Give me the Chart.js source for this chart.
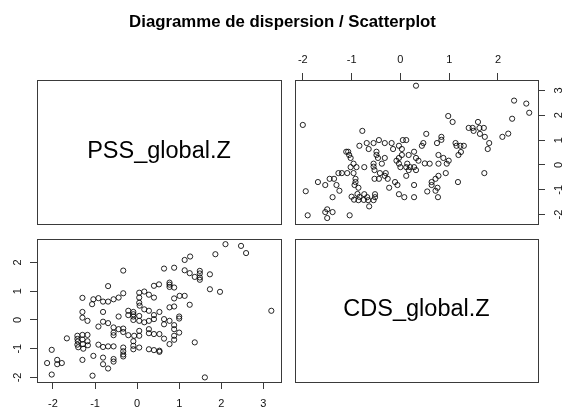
<!DOCTYPE html>
<html><head><meta charset="utf-8">
<script src="https://cdn.jsdelivr.net/npm/chart.js@4/dist/chart.umd.min.js"></script>
<style>
html,body{margin:0;padding:0;background:#fff;}
#wrap{position:relative;width:563px;height:409px;overflow:hidden;background:#fff;}
canvas{position:absolute;left:0;top:0;}
</style></head><body>
<div id="wrap">
<canvas id="cTL" width="563" height="409"></canvas>
<canvas id="cTR" width="563" height="409"></canvas>
<canvas id="cBL" width="563" height="409"></canvas>
<canvas id="cBR" width="563" height="409"></canvas>
</div>
<script>
const mainTitle = "Diagramme de dispersion / Scatterplot";
const varNames = ["PSS_global.Z", "CDS_global.Z"];

const pss = [-2.14,-2.03,-1.90,-1.90,-1.79,-2.03,-1.67,-1.42,-1.42,-1.41,-1.42,-1.40,-1.30,-1.30,-1.29,-1.28,-1.18,-1.18,-1.17,-1.30,
  -1.04,-1.06,-1.30,-1.30,-1.30,-1.18,-1.04,-1.07,-0.92,-0.81,-0.69,-0.56,-0.69,-0.81,-0.92,-0.81,-0.69,-0.56,-0.56,-0.56,
  -0.92,-0.81,-0.69,-0.56,-0.81,-0.81,-0.69,-0.56,-0.56,-0.44,-0.33,-0.33,-0.44,-0.21,-0.21,-0.09,-0.09,-0.09,-0.44,-0.33,
  -0.33,-0.21,-0.07,-0.33,-0.33,-0.33,-0.33,-0.09,-0.09,-0.09,0.05,0.17,0.05,0.05,0.06,0.28,0.40,0.40,0.05,0.05,
  0.17,0.28,0.40,0.28,0.40,0.05,0.05,0.28,0.28,0.05,0.28,0.40,0.53,0.53,0.52,0.64,0.88,0.77,0.77,0.77,
  0.88,0.88,0.77,0.88,0.53,0.64,0.77,0.64,0.88,0.88,0.53,0.64,0.88,0.88,0.77,1.01,1.13,1.25,1.00,1.00,
  1.00,1.13,1.26,1.13,1.25,1.49,1.49,1.49,1.49,1.37,1.73,1.73,1.97,1.86,2.10,2.47,2.59,3.19,1.61,1.37,
  0.17,0.40,-0.09];
const cds = [-1.50,-1.04,-1.39,-1.54,-1.50,-1.90,-0.64,-0.55,-0.66,-0.75,-0.86,-0.95,-0.52,-0.68,-0.84,-1.00,-0.52,-0.74,-0.88,-1.39,
  -1.25,-1.94,0.77,0.28,0.08,-0.03,0.72,0.55,0.76,0.64,0.64,0.72,1.18,0.28,-0.23,-0.06,-0.11,-0.26,-0.44,-0.53,
  -0.86,-0.94,-0.92,-0.92,-1.31,-1.54,-1.69,-1.36,-1.45,0.78,0.93,1.72,0.12,0.32,0.17,0.28,0.20,0.12,-0.32,-0.30,
  -0.42,-0.53,-0.55,-0.96,-1.09,-1.20,-1.27,-0.74,-0.90,-1.02,0.95,0.99,0.78,0.60,0.50,0.88,0.78,1.19,0.14,-0.03,
  0.37,0.32,0.17,-0.03,0.03,-0.38,-0.55,-0.32,-0.46,-0.96,-1.02,-1.05,-1.07,-1.11,1.24,1.79,1.82,1.30,1.23,1.15,
  1.13,0.75,0.44,0.47,0.28,0.03,-0.03,-0.15,-0.18,-0.32,-0.49,-0.65,-0.55,-0.69,-0.84,0.84,0.84,0.53,0.12,0.05,
  -0.44,2.09,2.21,1.73,1.63,1.71,1.62,1.48,1.40,1.50,1.59,1.07,0.98,2.29,2.64,2.58,2.33,0.32,-2.00,-0.78,
  -0.08,-0.49,0.00];

const pssTicks = [-2,-1,0,1,2,3];
const pssTickLabels = ["-2","-1","0","1","2","3"];
const cdsTicks = [-2,-1,0,1,2];
const cdsTickLabels = ["-2","-1","0","1","2"];
const pssRange = [-2.38, 3.42];
const cdsRange = [-2.16, 2.82];

// layout
const W = 563, H = 409;
const FAM = '"Liberation Sans", Arial, Helvetica, sans-serif';
const INK = '#3a3a3a';
const TICKLEN = 7;
const boxes = {
  TL: {left:37, right:281, top:80, bottom:224},
  TR: {left:295, right:538, top:80, bottom:224},
  BL: {left:37, right:281, top:239, bottom:382},
  BR: {left:295, right:538, top:239, bottom:382}
};

const framePlugin = {
  id: 'frame',
  afterDraw(chart, args, o) {
    const ctx = chart.ctx, a = chart.chartArea;
    ctx.save();
    ctx.strokeStyle = INK; ctx.lineWidth = 1;
    ctx.strokeRect(Math.round(a.left) + 0.5, Math.round(a.top) + 0.5,
                   Math.round(a.right - a.left), Math.round(a.bottom - a.top));
    if (o.label) {
      ctx.font = '23.5px ' + FAM; ctx.fillStyle = '#000';
      ctx.textAlign = 'center'; ctx.textBaseline = 'alphabetic';
      ctx.fillText(o.label, (a.left + a.right) / 2, (a.top + a.bottom) / 2 + 5.5);
    }
    if (o.title) {
      ctx.font = 'bold 16.8px ' + FAM; ctx.fillStyle = '#000';
      ctx.textAlign = 'center'; ctx.textBaseline = 'alphabetic';
      ctx.fillText(o.title, W / 2 + 1, 27);
    }
    if (o.rotAxis) {
      const s = chart.scales[o.rotAxis];
      const labs = o.rotLabels;
      ctx.font = '11px ' + FAM; ctx.fillStyle = '#111';
      ctx.textAlign = 'center'; ctx.textBaseline = 'alphabetic';
      s.ticks.forEach((t, i) => {
        const y = s.getPixelForValue(t.value);
        const x = s.position === 'left' ? s.right - TICKLEN - 9.3 : s.left + TICKLEN + 17.4;
        ctx.save(); ctx.translate(x, y); ctx.rotate(-Math.PI / 2);
        ctx.fillText(labs[i], 0, 0); ctx.restore();
      });
    }
    ctx.restore();
  }
};

function pad(b) { return {left: b.left, top: b.top, right: W - b.right, bottom: H - b.bottom}; }

function textPanel(id, b, label, title) {
  return new Chart(document.getElementById(id), {
    type: 'scatter',
    data: {datasets: []},
    options: {
      responsive: false, animation: false, devicePixelRatio: 1, events: [],
      layout: {padding: pad(b)},
      scales: {x: {display: false, min: 0, max: 1}, y: {display: false, min: 0, max: 1}},
      plugins: {legend: {display: false}, tooltip: {enabled: false},
                frame: {label: label, title: title}}
    },
    plugins: [framePlugin]
  });
}

function scatterPanel(id, b, xs, ys, xr, yr, xT, xL, yT, yL, xPos, yPos) {
  const p = pad(b);
  if (xPos === 'bottom') p.bottom = 0; else p.top = 0;
  if (yPos === 'left') p.left = 0; else p.right = 0;
  return new Chart(document.getElementById(id), {
    type: 'scatter',
    data: {datasets: [{
      data: xs.map((v, i) => ({x: v, y: ys[i]})),
      pointStyle: 'circle', pointRadius: 2.6, pointHoverRadius: 2.6,
      borderWidth: 1, borderColor: 'rgba(0,0,0,0.85)', backgroundColor: 'rgba(0,0,0,0)'
    }]},
    options: {
      responsive: false, animation: false, devicePixelRatio: 1, events: [],
      layout: {padding: p},
      scales: {
        x: {
          type: 'linear', position: xPos, min: xr[0], max: xr[1], bounds: 'data',
          afterBuildTicks: s => { s.ticks = xT.map(v => ({value: v})); },
          afterFit: s => { s.height = xPos === 'bottom' ? H - b.bottom : b.top; },
          grid: {drawOnChartArea: false, drawTicks: true, tickLength: TICKLEN, tickColor: INK, tickWidth: 1},
          border: {display: false},
          ticks: {font: {size: 11, family: FAM}, color: '#111', padding: xPos === 'bottom' ? 8 : 6,
                  maxRotation: 0, minRotation: 0, autoSkip: false,
                  callback: (v, i) => xL[i]}
        },
        y: {
          type: 'linear', position: yPos, min: yr[0], max: yr[1], bounds: 'data',
          afterBuildTicks: s => { s.ticks = yT.map(v => ({value: v})); },
          afterFit: s => { s.width = yPos === 'left' ? b.left : W - b.right; },
          grid: {drawOnChartArea: false, drawTicks: true, tickLength: TICKLEN, tickColor: INK, tickWidth: 1},
          border: {display: false},
          ticks: {display: false}
        }
      },
      plugins: {legend: {display: false}, tooltip: {enabled: false},
                frame: {rotAxis: 'y', rotLabels: yL}}
    },
    plugins: [framePlugin]
  });
}

textPanel('cTL', boxes.TL, varNames[0], mainTitle);
textPanel('cBR', boxes.BR, varNames[1], null);
scatterPanel('cTR', boxes.TR, cds, pss, cdsRange, pssRange, cdsTicks, cdsTickLabels, pssTicks, pssTickLabels, 'top', 'right');
scatterPanel('cBL', boxes.BL, pss, cds, pssRange, cdsRange, pssTicks, pssTickLabels, cdsTicks, cdsTickLabels, 'bottom', 'left');
</script>
</body></html>
